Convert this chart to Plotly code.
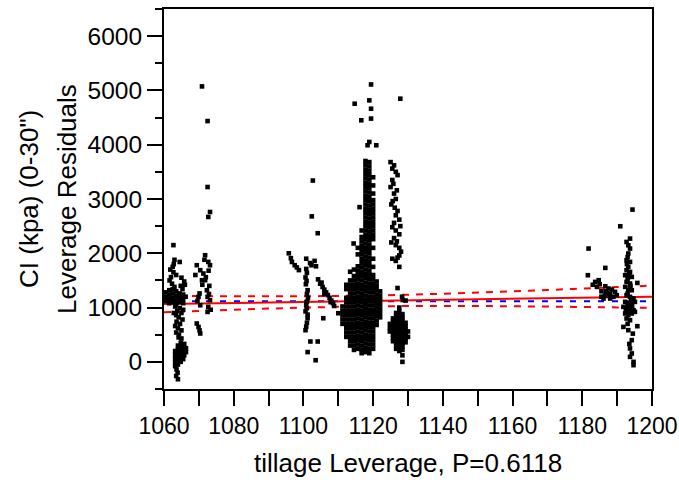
import plotly.graph_objects as go

# ---------------- data ----------------
A_points = [
    (1062.7, 2150), (1063.0, 1880), (1064.5, 1840), (1062.8, 1800), (1062.5, 1750),
    (1061.8, 1700), (1062.7, 1650), (1063.5, 1600), (1062.0, 1560), (1061.6, 1500),
    (1062.3, 1440), (1063.0, 1380), (1065.0, 1550), (1065.8, 1480), (1066.0, 1420),
    (1064.8, 1400), (1065.3, 1340),
    (1060.6, 1120), (1060.6, 1200), (1060.6, 1280),
    (1061.5, 1080), (1061.5, 1160), (1061.5, 1240), (1061.5, 1320),
    (1062.5, 1100), (1062.5, 1180), (1062.5, 1260), (1062.5, 1340),
    (1063.5, 1060), (1063.5, 1140), (1063.5, 1220), (1063.5, 1300),
    (1064.5, 1100), (1064.5, 1180), (1064.5, 1260),
    (1065.5, 1080), (1065.5, 1160), (1065.5, 1240), (1066.2, 1200),
    (1063.2, 1020), (1064.5, 990), (1063.8, 940), (1065.0, 900), (1063.5, 860),
    (1064.2, 820), (1065.3, 780), (1063.6, 740), (1064.6, 700), (1063.2, 660),
    (1064.0, 620), (1065.0, 580), (1063.5, 540), (1064.3, 500), (1065.5, 960),
    (1062.8, 900),
    (1065.8, 330), (1065.8, 260), (1065.8, 190), (1065.8, 120),
    (1064.8, 350), (1064.8, 280), (1064.8, 210), (1064.8, 140), (1064.8, 70), (1064.8, 0),
    (1064.0, 300), (1064.0, 230), (1064.0, 160), (1064.0, 90), (1064.0, 20), (1064.0, -50),
    (1063.2, 200), (1063.2, 130), (1063.2, 60), (1063.2, -10), (1063.2, -80),
    (1063.6, -140), (1063.9, -200), (1063.5, -260), (1064.0, -320),
    (1065.5, 50), (1066.3, 250), (1066.3, 180), (1065.0, 430), (1064.2, 450),
]

B_points = [
    (1070.9, 5074), (1072.5, 4436), (1072.5, 3221), (1073.2, 2761), (1072.7, 2669),
    (1071.8, 1964), (1072.7, 1841), (1073.2, 1780), (1069.4, 1780), (1070.4, 1688),
    (1071.3, 1627), (1070.9, 1504), (1071.8, 1504), (1072.3, 1320), (1072.5, 1197),
    (1069.9, 1197), (1070.4, 1043), (1073.2, 1136), (1072.7, 1012), (1072.5, 920),
    (1069.4, 707), (1069.9, 644), (1070.4, 523),
    (1071.0, 1420), (1072.0, 1560), (1072.8, 1680), (1070.2, 1260), (1072.9, 1250),
    (1073.0, 1400), (1069.0, 1600), (1071.6, 1880), (1073.4, 960), (1069.6, 1120),
    (1070.2, 580),
]

C_points = [
    (1095.8, 2000), (1096.4, 1910), (1096.7, 1840), (1097.5, 1780), (1098.1, 1740),
    (1098.7, 1690),
]

D_points = [
    (1102.7, 3340), (1102.4, 2680), (1104.1, 2370),
    (1100.8, 1900), (1101.9, 1820), (1102.3, 1780), (1100.8, 1712), (1101.0, 1640),
    (1100.6, 1555), (1100.9, 1490), (1100.7, 1430), (1101.2, 1320), (1101.0, 1250),
    (1101.3, 1180), (1101.0, 1110), (1100.8, 1055), (1101.0, 990), (1100.6, 930),
    (1101.2, 870), (1101.2, 804), (1101.0, 720), (1100.8, 648), (1100.6, 583),
    (1103.2, 1860), (1103.6, 1760),
    (1102.0, 375), (1104.1, 375), (1101.2, 180), (1103.5, 30), (1105.7, 804),
]

E_points = [
    (1104.2, 1520), (1104.8, 1440), (1105.5, 1380), (1106.0, 1330), (1106.5, 1280),
    (1107.0, 1230), (1107.5, 1180), (1108.0, 1130), (1108.5, 1080), (1108.8, 1030),
    (1106.0, 1250), (1107.8, 1100), (1105.2, 1460), (1110.0, 896),
]

F_top_points = [
    (1119.4, 5110), (1114.7, 4755), (1118.9, 4817), (1119.4, 4663), (1116.6, 4450),
    (1119.4, 4481), (1118.9, 4051), (1118.4, 3990), (1120.9, 3990), (1116.1, 2850),
    (1114.4, 2180),
]

F_columns = [
    (1111.2, [1020, 940, 860, 780, 700]),
    (1112.3, [1420, 1340, 1180, 1100, 1020, 940, 860, 780, 700, 620, 540, 460]),
    (1113.4, [1660, 1500, 1420, 1340, 1260, 1180, 1100, 1020, 940, 860, 780, 700,
              620, 540, 460, 380, 300]),
    (1114.5, [1700, 1580, 1500, 1420, 1340, 1260, 1180, 1100, 1020, 940, 860, 780,
              700, 620, 540, 460, 380, 300, 220]),
    (1115.6, [2100, 1980, 1760, 1680, 1600, 1520, 1440, 1360, 1280, 1200, 1120, 1040,
              960, 880, 800, 720, 640, 560, 480, 400, 320, 240]),
    (1116.7, [2420, 2300, 2220, 2140, 2060, 1980, 1900, 1820, 1740, 1660, 1580, 1500,
              1420, 1340, 1260, 1180, 1100, 1020, 940, 860, 780, 700, 620, 540, 460,
              380, 300, 220, 160]),
    (1117.8, [3700, 3620, 3540, 3460, 3380, 3300, 3220, 3140, 3060, 2980, 2900, 2820,
              2740, 2660, 2580, 2500, 2420, 2340, 2260, 2180, 2100, 2020, 1940, 1860,
              1780, 1700, 1620, 1540, 1460, 1380, 1300, 1220, 1140, 1060, 980, 900,
              820, 740, 660, 580, 500, 420, 340, 260, 180]),
    (1118.9, [3680, 3600, 3520, 3440, 3360, 3280, 3200, 3120, 3040, 2960, 2880, 2800,
              2720, 2640, 2560, 2480, 2400, 2320, 2240, 2160, 2080, 2000, 1920, 1840,
              1760, 1680, 1600, 1520, 1440, 1360, 1280, 1200, 1120, 1040, 960, 880,
              800, 720, 640, 560, 480, 400, 320, 240, 160]),
    (1120.0, [3400, 3250, 3100, 2980, 2900, 2820, 2740, 2660, 2580, 2500, 2420, 2340,
              2260, 2100, 1900, 1750, 1600, 1520, 1440, 1360, 1280, 1200, 1120, 1040,
              960, 880, 800, 720, 640, 560, 480, 400, 320, 240]),
    (1121.0, [1480, 1400, 1320, 1240, 1160, 1080, 1000, 920, 840, 760, 680]),
    (1122.0, [1300, 1220, 1140, 1060, 980, 900, 820]),
]

G_points = [
    (1127.8, 4848), (1125.0, 3680), (1126.0, 3620), (1125.5, 3560), (1126.5, 3500),
    (1127.0, 3440), (1125.5, 3350), (1125.0, 3220), (1126.0, 3100), (1126.5, 3000),
    (1125.2, 2900), (1127.0, 2780), (1126.5, 2700), (1127.5, 2620), (1126.0, 2560),
    (1125.5, 2480), (1126.5, 2420), (1127.5, 2350), (1126.0, 2280), (1125.2, 2200),
    (1126.5, 2150), (1127.5, 2100), (1128.0, 2030), (1127.5, 1960), (1125.5, 1900),
    (1126.5, 1860), (1127.5, 1750), (1127.0, 1360), (1128.3, 1200), (1128.5, 1140),
    (1129.3, 1130), (1125.8, 3280), (1126.8, 3160), (1125.6, 2960), (1126.2, 2840),
    (1127.8, 2500), (1126.8, 2220), (1127.0, 1920),
]

G_columns = [
    (1124.8, [700, 620, 560]),
    (1125.7, [800, 740, 680, 620, 560, 500, 440, 380]),
    (1126.6, [900, 840, 780, 720, 660, 600, 540, 480, 420, 360, 300, 240]),
    (1127.5, [1000, 930, 860, 800, 740, 680, 620, 560, 500, 440, 380, 320, 260, 200]),
    (1128.4, [880, 820, 760, 700, 640, 580, 520, 460, 400, 340, 280, 220, 120, 0]),
    (1129.3, [720, 660, 600, 540, 480, 420, 360]),
    (1130.0, [560, 460]),
]

H_points = [
    (1181.8, 2087), (1181.6, 1596), (1186.6, 1731), (1190.9, 2498), (1194.4, 2805),
    (1193.7, 2271), (1183.7, 1473), (1184.7, 1504), (1184.2, 1381), (1186.6, 1393),
    (1187.5, 1351), (1188.5, 1332), (1189.4, 1289), (1187.0, 1259), (1186.1, 1167),
    (1188.0, 1167), (1188.9, 1197), (1189.9, 1228), (1185.5, 1300), (1186.8, 1300),
    (1188.0, 1260), (1185.0, 1430), (1183.0, 1420), (1187.8, 1220), (1186.5, 1220),
    (1185.5, 1200),
]

I_points = [
    (1192.7, 2209), (1193.2, 2148), (1193.7, 2087), (1193.2, 1996), (1192.7, 1872),
    (1193.7, 1841), (1193.2, 1749), (1192.7, 1688), (1193.7, 1657), (1192.3, 1596),
    (1193.2, 1565), (1194.2, 1565), (1192.7, 1473), (1193.7, 1443), (1192.3, 1381),
    (1193.2, 1320), (1194.2, 1320), (1192.7, 1228), (1193.7, 1197), (1194.7, 1167),
    (1192.3, 1105), (1193.2, 1075), (1194.2, 1075), (1195.1, 1105), (1191.8, 1013),
    (1192.7, 983), (1193.7, 983), (1194.7, 952), (1192.3, 891), (1193.2, 860),
    (1194.2, 891), (1195.1, 921), (1195.8, 1454), (1192.7, 799), (1193.7, 768),
    (1191.8, 644), (1193.2, 584), (1195.8, 657), (1194.2, 400), (1193.7, 247),
    (1194.2, 155), (1193.7, 92), (1194.7, 0), (1194.7, -61),
    (1193.0, 1930), (1192.8, 1800), (1193.5, 1620), (1193.0, 1520), (1193.8, 1400),
    (1193.0, 1260), (1194.0, 1140), (1193.0, 1040), (1194.3, 1020), (1192.5, 930),
    (1193.5, 920), (1193.0, 700), (1194.5, 520), (1193.5, 330),
]

# fit line, mean line and confidence curves
fit_x = [1060, 1200]
fit_y = [1065, 1200]
mean_y = 1118
band_x = [1060, 1070, 1080, 1090, 1100, 1110, 1120, 1130, 1140, 1150, 1160, 1170, 1180, 1190, 1200]
band_upper = [1218, 1212, 1209, 1207, 1209, 1214, 1223, 1237, 1255, 1276, 1299, 1324, 1350, 1377, 1405]
band_lower = [912, 937, 960, 981, 999, 1013, 1022, 1028, 1029, 1028, 1024, 1018, 1011, 1003, 995]

x_title = "tillage Leverage, P=0.6118"
y_title_1 = 'CI (kpa) (0-30")'
y_title_2 = "Leverage Residuals"

# ---------------- assemble points ----------------
px, py = [], []
for group in (A_points, B_points, C_points, D_points, E_points, F_top_points,
              G_points, H_points, I_points):
    for xv, yv in group:
        px.append(xv)
        py.append(yv)
for cols in (F_columns, G_columns):
    for xv, ys in cols:
        for yv in ys:
            px.append(xv)
            py.append(yv)

FONT = "Liberation Sans, Arial, sans-serif"

fig = go.Figure()
fig.add_trace(go.Scatter(x=[band_x[0], band_x[-1]], y=[mean_y, mean_y], mode="lines",
                         line=dict(color="#0000ff", width=2, dash="6px,8px"),
                         hoverinfo="skip"))
fig.add_trace(go.Scatter(x=band_x, y=band_upper, mode="lines", line_shape="spline",
                         line=dict(color="#ff0000", width=2, dash="7px,7px"),
                         hoverinfo="skip"))
fig.add_trace(go.Scatter(x=band_x, y=band_lower, mode="lines", line_shape="spline",
                         line=dict(color="#ff0000", width=2, dash="7px,7px"),
                         hoverinfo="skip"))
fig.add_trace(go.Scatter(x=fit_x, y=fit_y, mode="lines",
                         line=dict(color="#ff0000", width=2), hoverinfo="skip"))
fig.add_trace(go.Scatter(x=px, y=py, mode="markers",
                         marker=dict(symbol="square", size=4.6, color="black",
                                     line=dict(width=0))))

fig.update_layout(
    width=679, height=480,
    margin=dict(l=164, r=27, t=9, b=91, autoexpand=False),
    paper_bgcolor="white", plot_bgcolor="white",
    showlegend=False,
    font=dict(family=FONT, color="black", size=25),
)
fig.update_xaxes(
    range=[1060, 1200], tick0=1060, dtick=20, automargin=False,
    ticks="outside", ticklen=15, tickwidth=2, tickcolor="black",
    showline=True, linewidth=2, linecolor="black", mirror=True,
    showgrid=False, zeroline=False, ticklabeloverflow="allow",
    tickfont=dict(size=23, family=FONT, color="black"),
    minor=dict(dtick=10, ticks="outside", ticklen=15, tickwidth=2, tickcolor="black",
               showgrid=False),
)
fig.update_yaxes(
    range=[-500, 6500], tick0=0, dtick=1000, automargin=False,
    ticks="outside", ticklen=15, tickwidth=2, tickcolor="black",
    showline=True, linewidth=2, linecolor="black", mirror=True,
    showgrid=False, zeroline=False,
    tickfont=dict(size=24.5, family=FONT, color="black"),
    minor=dict(dtick=500, ticks="outside", ticklen=7, tickwidth=2, tickcolor="black",
               showgrid=False),
)
fig.add_annotation(text=x_title, xref="paper", yref="paper", x=0.5, y=0,
                   xanchor="center", yanchor="middle", yshift=-74, showarrow=False,
                   font=dict(size=26, family=FONT, color="black"))
fig.add_annotation(text=y_title_1, xref="paper", yref="paper", x=0, y=0.5,
                   xanchor="center", yanchor="middle", xshift=-135, textangle=-90,
                   showarrow=False, font=dict(size=26, family=FONT, color="black"))
fig.add_annotation(text=y_title_2, xref="paper", yref="paper", x=0, y=0.5,
                   xanchor="center", yanchor="middle", xshift=-97, textangle=-90,
                   showarrow=False, font=dict(size=26, family=FONT, color="black"))

fig.write_html("out.html")
